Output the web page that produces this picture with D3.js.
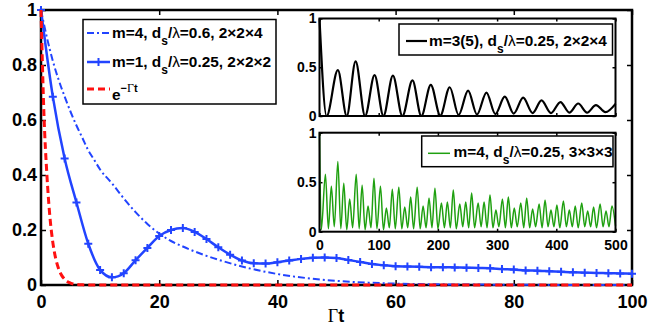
<!DOCTYPE html>
<html><head><meta charset="utf-8">
<script src="https://cdn.jsdelivr.net/npm/d3@7"></script>
<style>
body{margin:0;background:#fff}
text{font-family:"Liberation Sans",Arial,Helvetica,sans-serif;font-weight:bold;fill:#000}
</style>
</head><body>
<svg id="c" width="654" height="327" xmlns="http://www.w3.org/2000/svg"></svg>
<script>
// ---------------- DATA ----------------
const mainXTicks = [0, 20, 40, 60, 80, 100];
const mainYTicks = [0, 0.2, 0.4, 0.6, 0.8, 1];
const insetXTicks = [0, 100, 200, 300, 400, 500];
const insetYTicks = [0, 0.5, 1];

// m=1, ds/λ=0.25, 2x2x2 (solid blue with + markers)
const solidT = [0,2,4,6,8,10,12,14,16,18,20,22,24,26,28,30,32,34,36,38,40,42,44,46,48,50,
  52,54,56,58,60,62,64,66,68,70,72,74,76,78,80,82,84,86,88,90,92,94,96,98,100];
const solidV = [1.00,0.685,0.46,0.30,0.15,0.055,0.028,0.043,0.09,0.135,0.178,0.20,0.207,0.193,0.167,0.137,0.11,0.089,0.079,0.078,0.083,0.089,0.095,0.099,0.100,0.098,
  0.091,0.084,0.076,0.072,0.068,0.067,0.066,0.065,0.065,0.064,0.063,0.062,0.061,0.058,0.056,0.053,0.052,0.050,0.048,0.046,0.045,0.044,0.043,0.042,0.041];

// m=4, ds/λ=0.6, 2x2x4 (dash-dot blue)
const dashDotT = [0,1,2,3,4,5,6,7,8,9,10,12,14,16,18,20,22,24,26,28,30,35,40,45,50,55,60,70,80,90,100];
const dashDotV = [1,0.90,0.815,0.745,0.685,0.63,0.58,0.535,0.49,0.455,0.42,0.37,0.315,0.265,0.222,0.187,0.16,0.14,0.122,0.106,0.092,0.062,0.04,0.025,0.015,0.009,0.005,0.002,0.001,0,0];

// e^{-Γt} (red dashed)
const expT = [0,0.5,1,1.5,2,2.5,3,3.5,4,4.5,5,6,7,8,100];
const expV = [1,0.62,0.40,0.25,0.155,0.095,0.058,0.035,0.021,0.012,0.007,0.002,0.0005,0,0];

// inset 1: m=3(5), ds/λ=0.25, 2x2x4 (black)
const blackT = [0,12,31,46,61,77,93,108,124,140,157,172,188,204,220,235,251,266,282,297,313,328,344,360,375,391,407,422,437,452,467,483,500];
const blackV = [1,0,0.47,0,0.56,0,0.42,0,0.415,0,0.365,0,0.32,0.005,0.295,0.01,0.26,0.015,0.24,0.02,0.198,0.025,0.188,0.03,0.16,0.03,0.143,0.035,0.128,0.035,0.112,0.04,0.125];

// inset 2: m=4, ds/λ=0.25, 3x3x3 (green)
const greenPeakT = [10,20,31,41,51,62,72,82,92,103,113,123,134,144,154,165,175,185,195,206,216,226,237,247,
  257,268,278,288,298,309,319,329,340,350,360,371,381,391,401,412,422,432,443,453,463,474,484,494];
const greenPeakV = [0.58,0.46,0.71,0.49,0.33,0.58,0.47,0.26,0.54,0.46,0.24,0.43,0.45,0.25,0.35,0.45,0.26,0.34,0.44,0.29,0.30,0.42,0.28,0.30,
  0.39,0.29,0.30,0.37,0.22,0.33,0.35,0.24,0.29,0.34,0.23,0.28,0.32,0.22,0.27,0.31,0.22,0.26,0.29,0.21,0.25,0.28,0.21,0.26];
const greenTroughT = [0,3,15,25,36,46,56,67,77,87,97,108,118,128,139,149,159,170,180,190,200,211,221,231,242,
  252,262,273,283,293,303,314,324,334,345,355,365,376,386,396,406,417,427,437,448,458,468,479,489,500];
const greenTroughV = [1,0.02,0.03,0.05,0.03,0.02,0.04,0.03,0.02,0.04,0.03,0.02,0.04,0.03,0.03,0.04,0.03,0.03,0.04,0.04,0.03,0.04,0.04,0.03,0.05,
  0.04,0.04,0.05,0.04,0.04,0.05,0.04,0.04,0.05,0.04,0.04,0.05,0.04,0.05,0.05,0.04,0.05,0.05,0.04,0.05,0.05,0.04,0.05,0.05,0.06];

// ---------------- DRAW ----------------
const BLUE = "#2244ff", RED = "#ff1010", GREEN = "#1fa010";
const LEG_FS = 15.4;
const svg = d3.select("#c");
const zip = (T, V) => T.map((t, i) => [t, V[i]]);

const x = d3.scaleLinear().domain([0, 100]).range([41, 632]);
const y = d3.scaleLinear().domain([0, 1]).range([285, 10]);

function styleAxis(g, size) {
  g.select(".domain").remove();
  g.selectAll(".tick line").attr("stroke", "#000").attr("stroke-width", 1.5);
  g.selectAll(".tick text").style("font-size", size + "px").style("font-weight", "bold")
    .style("font-family", '"Liberation Sans",Arial,sans-serif').attr("fill", "#000");
}

svg.append("g").attr("transform", `translate(0,285)`)
  .call(d3.axisBottom(x).tickValues(mainXTicks).tickSizeInner(-5).tickSizeOuter(0).tickPadding(10).tickFormat(d3.format("d")))
  .call(g => styleAxis(g, 18));
svg.append("g").attr("transform", `translate(0,10)`)
  .call(d3.axisTop(x).tickValues(mainXTicks).tickSizeInner(-5).tickSizeOuter(0).tickFormat(""))
  .call(g => styleAxis(g, 18));
svg.append("g").attr("transform", `translate(41,0)`)
  .call(d3.axisLeft(y).tickValues(mainYTicks).tickSizeInner(-5).tickSizeOuter(0).tickPadding(4).tickFormat(d => d === 0 || d === 1 ? d3.format("d")(d) : d3.format(".1f")(d)))
  .call(g => styleAxis(g, 18));
svg.append("g").attr("transform", `translate(632,0)`)
  .call(d3.axisRight(y).tickValues(mainYTicks).tickSizeInner(-5).tickSizeOuter(0).tickFormat(""))
  .call(g => styleAxis(g, 18));
svg.append("rect").attr("x", 41).attr("y", 10).attr("width", 591).attr("height", 275)
  .attr("fill", "none").attr("stroke", "#000").attr("stroke-width", 2.5);

const lineMain = d3.line().x(d => x(d[0])).y(d => y(d[1])).curve(d3.curveMonotoneX);
svg.append("path").datum(zip(dashDotT, dashDotV)).attr("d", lineMain)
  .attr("fill", "none").attr("stroke", BLUE).attr("stroke-width", 2).attr("stroke-dasharray", "7,3,2,3");
svg.append("path").datum(zip(solidT, solidV)).attr("d", lineMain)
  .attr("fill", "none").attr("stroke", BLUE).attr("stroke-width", 2.5);
svg.append("g").selectAll("path").data(zip(solidT, solidV)).join("path")
  .attr("d", d => `M${x(d[0]) - 4},${y(d[1])}H${x(d[0]) + 4}M${x(d[0])},${y(d[1]) - 4}V${y(d[1]) + 4}`)
  .attr("stroke", BLUE).attr("stroke-width", 2).attr("fill", "none");
svg.append("path").datum(zip(expT, expV)).attr("d", lineMain)
  .attr("fill", "none").attr("stroke", RED).attr("stroke-width", 3).attr("stroke-dasharray", "7,4");

const xl = svg.append("text").attr("x", 336).attr("y", 322).attr("text-anchor", "middle").style("font-size", "18px");
xl.append("tspan").text("Γ").style("font-family", '"Liberation Serif","Times New Roman",serif').style("font-weight", "normal");
xl.append("tspan").text("t");

const lg = svg.append("g");
lg.append("rect").attr("x", 83).attr("y", 19.5).attr("width", 193).attr("height", 84.5)
  .attr("fill", "#fff").attr("stroke", "#000").attr("stroke-width", 1.5);
lg.append("line").attr("x1", 87).attr("x2", 110).attr("y1", 33).attr("y2", 33)
  .attr("stroke", BLUE).attr("stroke-width", 2).attr("stroke-dasharray", "7,3,2,3");
lg.append("line").attr("x1", 87).attr("x2", 110).attr("y1", 62).attr("y2", 62)
  .attr("stroke", BLUE).attr("stroke-width", 2.5);
lg.append("path").attr("d", "M94.5,62H102.5M98.5,58V66").attr("stroke", BLUE).attr("stroke-width", 2);
lg.append("line").attr("x1", 87).attr("x2", 110).attr("y1", 89).attr("y2", 89)
  .attr("stroke", RED).attr("stroke-width", 3).attr("stroke-dasharray", "7,4");

function legendText(g, xx, yy, pre, post) {
  const t = g.append("text").attr("x", xx).attr("y", yy).style("font-size", LEG_FS + "px");
  t.append("tspan").text(pre + "d");
  t.append("tspan").text("s").attr("dy", 7).style("font-size", "12px");
  t.append("tspan").text("/").attr("dy", -7);
  t.append("tspan").text("λ").style("font-weight", "normal");
  t.append("tspan").text(post);
  return t;
}
legendText(lg, 112, 38, "m=4, ", "=0.6, 2×2×4");
legendText(lg, 112, 66.5, "m=1, ", "=0.25, 2×2×2");
const et = lg.append("text").attr("x", 112).attr("y", 100).style("font-size", LEG_FS + "px");
et.append("tspan").text("e");
et.append("tspan").text("−").attr("dy", -8.5).style("font-size", "11px");
et.append("tspan").text("Γ").style("font-size", "12px").style("font-family", '"Liberation Serif",serif').style("font-weight", "normal");
et.append("tspan").text("t").style("font-size", "11px");

function inset(top, bottom, T, V, color, width, showX, legendBox, pre, post) {
  const xi = d3.scaleLinear().domain([0, 500]).range([319.5, 615.5]);
  const yi = d3.scaleLinear().domain([0, 1]).range([bottom, top]);
  svg.append("rect").attr("x", 319.5).attr("y", top).attr("width", 296).attr("height", bottom - top)
    .attr("fill", "#fff");
  const g = svg.append("g");
  g.append("g").attr("transform", `translate(0,${bottom})`)
    .call(d3.axisBottom(xi).tickValues(insetXTicks).tickSizeInner(-3).tickSizeOuter(0).tickPadding(8)
      .tickFormat(showX ? d3.format("d") : ""))
    .call(a => styleAxis(a, 14));
  g.append("g").attr("transform", `translate(0,${top})`)
    .call(d3.axisTop(xi).tickValues(insetXTicks).tickSizeInner(-3).tickSizeOuter(0).tickFormat(""))
    .call(a => styleAxis(a, 14));
  g.append("g").attr("transform", `translate(319.5,0)`)
    .call(d3.axisLeft(yi).tickValues(insetYTicks).tickSizeInner(-3).tickSizeOuter(0).tickPadding(3)
      .tickFormat(d => d === 0.5 ? "0.5" : d3.format("d")(d)))
    .call(a => styleAxis(a, 14));
  g.append("g").attr("transform", `translate(615.5,0)`)
    .call(d3.axisRight(yi).tickValues(insetYTicks).tickSizeInner(-3).tickSizeOuter(0).tickFormat(""))
    .call(a => styleAxis(a, 14));
  const li = d3.line().x(d => xi(d[0])).y(d => yi(d[1])).curve(d3.curveMonotoneX);
  g.append("path").datum(zip(T, V)).attr("d", li)
    .attr("fill", "none").attr("stroke", color).attr("stroke-width", width).attr("stroke-linejoin", "round");
  g.append("rect").attr("x", 319.5).attr("y", top).attr("width", 296).attr("height", bottom - top)
    .attr("fill", "none").attr("stroke", "#000").attr("stroke-width", 2);
  const [bx, by, bw, bh, sx1, sx2, sy, tx, ty] = legendBox;
  g.append("rect").attr("x", bx).attr("y", by).attr("width", bw).attr("height", bh)
    .attr("fill", "#fff").attr("stroke", "#000").attr("stroke-width", 1.5);
  g.append("line").attr("x1", sx1).attr("x2", sx2).attr("y1", sy).attr("y2", sy)
    .attr("stroke", color).attr("stroke-width", width);
  legendText(g, tx, ty, pre, post);
}

inset(18.5, 116, blackT, blackV, "#000", 2.2, false,
  [399, 24, 213.5, 31, 406, 427, 41, 429, 45.5], "m=3(5), ", "=0.25, 2×2×4");

const greenPts = zip(greenTroughT, greenTroughV).concat(zip(greenPeakT, greenPeakV)).sort((a, b) => a[0] - b[0]);
inset(132.7, 231.7, greenPts.map(d => d[0]), greenPts.map(d => d[1]), GREEN, 1.5, true,
  [421.7, 136, 191.3, 30.7, 428, 450, 153.3, 453.5, 157], "m=4, ", "=0.25, 3×3×3");
</script>
</body></html>
